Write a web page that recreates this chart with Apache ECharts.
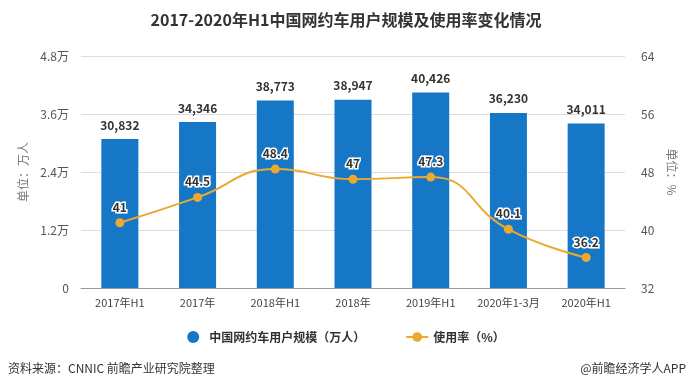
<!DOCTYPE html>
<html><head><meta charset="utf-8">
<script src="https://cdn.jsdelivr.net/npm/echarts@6/dist/echarts.min.js"></script>
<style>html,body{margin:0;padding:0;background:#fff}#c{width:692px;height:390px}</style>
</head><body><div id="c"></div>
<script>
const categories = ['2017年H1','2017年','2018年H1','2018年','2019年H1','2020年1-3月','2020年H1'];
const users = [30832, 34346, 38773, 38947, 40426, 36230, 34011];
const rate = [41, 44.5, 48.4, 47, 47.3, 40.1, 36.2];
const leftTicks = ['0','1.2万','2.4万','3.6万','4.8万'];
const rightTicks = [32, 40, 48, 56, 64];

const font = '"Microsoft YaHei","Noto Sans CJK SC",sans-serif';
const chart = echarts.init(document.getElementById('c'));
chart.setOption({
  animation: false,
  textStyle: {fontFamily: font},
  title: {
    text: '2017-2020年H1中国网约车用户规模及使用率变化情况',
    left: 'center', top: 7,
    textStyle: {fontSize: 16, fontWeight: 'bold', color: '#333', fontFamily: font}
  },
  grid: {left: 81, right: 67, top: 56, bottom: 102},
  legend: {
    bottom: 42, left: 'center', itemGap: 40,
    textStyle: {fontSize: 12, color: '#333', fontWeight: 'bold'},
    data: [
      {name: '中国网约车用户规模（万人）', icon: 'circle'},
      {name: '使用率（%）'}
    ],
    itemWidth: 22, itemHeight: 12
  },
  graphic: [
    {type: 'text', left: 8, top: 362, style: {text: '资料来源：CNNIC 前瞻产业研究院整理', fontSize: 12, fill: '#333', fontFamily: font}},
    {type: 'text', right: 6, top: 362, style: {text: '@前瞻经济学人APP', fontSize: 12, fill: '#333', fontFamily: font}}
  ],
  xAxis: {
    type: 'category', data: categories,
    axisLine: {lineStyle: {color: '#999'}},
    axisTick: {alignWithLabel: true, lineStyle: {color: '#999'}},
    axisLabel: {color: '#444', fontSize: 11, margin: 9, interval: 0}
  },
  yAxis: [
    {
      type: 'value', min: 0, max: 48000, interval: 12000,
      name: '单位：万人', nameLocation: 'middle', nameGap: 52, nameRotate: 90,
      nameTextStyle: {color: '#777', fontSize: 12},
      axisLine: {show: false}, axisTick: {show: false},
      axisLabel: {color: '#555', fontSize: 12, margin: 12, formatter: (v) => leftTicks[Math.round(v / 12000)]},
      splitLine: {lineStyle: {color: '#ddd'}}
    },
    {
      type: 'value', min: rightTicks[0], max: rightTicks[rightTicks.length - 1], interval: 8,
      name: '单位：%', nameLocation: 'middle', nameGap: 36, nameRotate: -90,
      nameTextStyle: {color: '#777', fontSize: 12},
      axisLine: {show: false}, axisTick: {show: false},
      axisLabel: {color: '#555', fontSize: 12, margin: 16},
      splitLine: {show: false}
    }
  ],
  series: [
    {
      name: '中国网约车用户规模（万人）', type: 'bar', data: users, barWidth: 37,
      itemStyle: {color: '#1677C7'},
      label: {show: true, position: 'top', distance: 8, color: '#333', fontWeight: 'bold', fontSize: 12,
        formatter: (p) => p.value.toLocaleString('en-US')}
    },
    {
      name: '使用率（%）', type: 'line', yAxisIndex: 1, data: rate, smooth: true,
      symbol: 'circle', symbolSize: 9,
      lineStyle: {color: '#EBA92F', width: 2},
      itemStyle: {color: '#EBA92F'},
      label: {show: true, position: 'top', distance: 5, color: '#333', fontWeight: 'bold', fontSize: 12,
        textBorderColor: '#fff', textBorderWidth: 3}
    }
  ]
});
</script></body></html>
